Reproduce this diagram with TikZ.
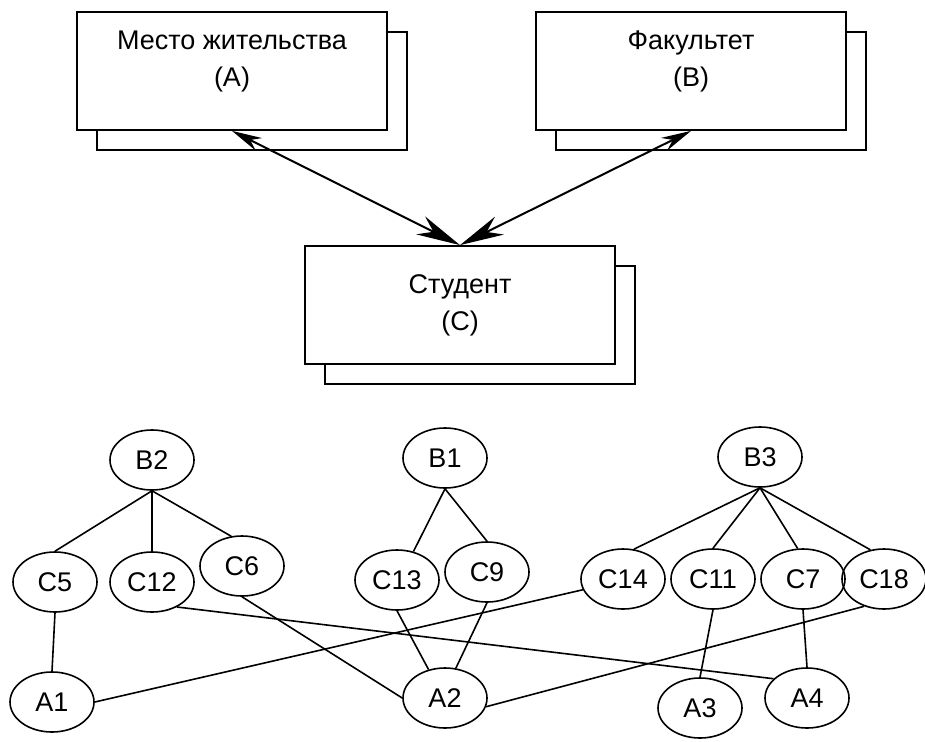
\documentclass[tikz,border=0pt]{standalone}
\usepackage{fontspec}
\setmainfont{Liberation Sans}
\usetikzlibrary{arrows.meta,shapes.geometric,shadows}

\begin{document}
\begin{tikzpicture}[x=1pt, y=-1pt,
  ent/.style={draw, line width=1.8pt, fill=white, minimum width=310pt, minimum height=118pt,
    align=center, font=\fontsize{27}{37}\selectfont,
    copy shadow={shadow xshift=20pt, shadow yshift=-20pt, draw=black, fill=white, line width=1.8pt}},
  inst/.style={draw, ellipse, line width=1.6pt, minimum width=84pt, minimum height=60pt,
    inner sep=0pt, font=\fontsize{27}{32}\selectfont},
  arr/.style={{Stealth[length=30pt,width=14pt]}-{Stealth[length=44pt,width=20pt]}, line width=2pt},
  lnk/.style={line width=1.6pt}]
  \useasboundingbox (0,0) rectangle (925,741);
  % entity sets
  \node[ent, text depth=25pt] (A) at (232,71) {Место жительства\\(A)};
  \node[ent, text depth=25pt] (B) at (691,71) {Факультет\\(B)};
  \node[ent] (C) at (460,305) {Студент\\(C)};
  \draw[arr] (A.south) -- (C.north);
  \draw[arr] (B.south) -- (C.north);
  % instances
  \foreach \n/\x/\y in {B2/152/460, B1/445/458, B3/760/457,
      C5/55/582, C12/152/582, C6/242/566, C13/397/580, C9/487/572,
      C14/623/579, C11/713/579, C7/803/579, C18/884/579,
      A1/52/702, A2/445/698, A3/700/708, A4/807/698}
    \node[inst] (\n) at (\x,\y) {\n};
  \foreach \u/\v in {B2.south/C5.north, B2.south/C12.north, B2.south/C6.110,
      B1.south/C13.60, B1.south/C9.north,
      B3.south/C14.70, B3.south/C11.north, B3.south/C7.100, B3.south/C18.115,
      C5.south/A1.north, C12.315/A4.150, C6.south/A2.west, C13.south/A2.120,
      C9.south/A2.70, C14.195/A1.east, C11.south/A3.north, C7.south/A4.north,
      C18.234/A2.348}
    \draw[lnk] (\u) -- (\v);
\end{tikzpicture}
\end{document}
